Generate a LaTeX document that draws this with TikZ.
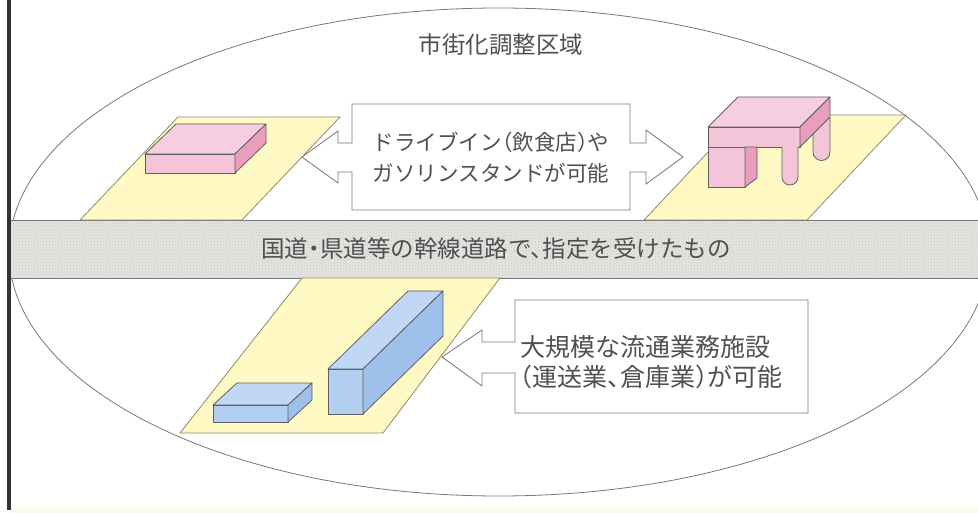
\documentclass[tikz,border=0pt]{standalone}
\usepackage{fontspec}
\newfontfamily\jp[RawFeature=+halt]{Noto Sans CJK JP}
\usetikzlibrary{patterns}

\definecolor{lotfill}{RGB}{255,250,196}
\definecolor{lotline}{RGB}{140,140,110}
\definecolor{pinktop}{RGB}{247,206,224}
\definecolor{pinkfront}{RGB}{244,196,216}
\definecolor{pinkside}{RGB}{234,158,190}
\definecolor{bluetop}{RGB}{192,216,246}
\definecolor{bluefront}{RGB}{178,206,240}
\definecolor{blueside}{RGB}{158,192,234}
\definecolor{edgeline}{RGB}{95,95,95}
\definecolor{thinline}{RGB}{120,120,120}
\definecolor{inktext}{RGB}{80,80,80}
\definecolor{roadfill}{RGB}{228,229,225}
\definecolor{roaddots}{RGB}{196,198,194}
\definecolor{papertint}{RGB}{253,251,240}

\tikzset{
  lot/.style={fill=lotfill, draw=lotline, line width=0.8pt, line join=miter},
  facepink/.style={fill=#1, draw=edgeline, line width=0.8pt, line join=round},
  faceblue/.style={fill=#1, draw=edgeline, line width=0.8pt, line join=round},
  callout/.style={fill=white, draw=thinline, line width=0.8pt, line join=miter},
  label/.style={text=inktext, inner sep=0pt, font=\jp},
}

\begin{document}
\begin{tikzpicture}[x=1pt, y=-1pt]
  \useasboundingbox (0,0) rectangle (978,513);
  \fill[white] (0,0) rectangle (978,513);
  \fill[papertint] (10,507) rectangle (978,513);

  % urbanization control area
  \draw[thinline, line width=0.8pt] (499,252) ellipse [x radius=490, y radius=244];

  % trunk road band
  \fill[roadfill] (10,220) rectangle (978,278);
  \fill[pattern=crosshatch dots, pattern color=roaddots] (10,220) rectangle (978,278);
  \draw[thinline, line width=0.9pt] (10,220) -- (978,220) (10,278) -- (978,278);

  % page edge on the left
  \draw[black!80, line width=3.2pt] (9,0) -- (9,510);

  % lots along the road
  \draw[lot] (80,220) -- (242,220) -- (340,117) -- (178,117) -- cycle;
  \draw[lot] (644,220) -- (807,220) -- (906,115) -- (743,115) -- cycle;
  \draw[lot] (180,433) -- (383,433) -- (500,278) -- (302,278) -- cycle;

  % low pink building
  \draw[facepink=pinktop] (145,154) -- (235,154) -- (266,124) -- (176,124) -- cycle;
  \draw[facepink=pinkfront] (145,154) rectangle (235,173);
  \draw[facepink=pinkside] (235,154) -- (266,124) -- (266,143) -- (235,173) -- cycle;

  % pink table-shaped building
  \draw[facepink=pinkfront] (813,118) -- (813,152) arc[start angle=180, end angle=0, radius=8.5] -- (830,118) -- cycle;
  \draw[facepink=pinktop] (708,127) -- (800,127) -- (830,97) -- (738,97) -- cycle;
  \draw[facepink=pinkfront] (708,127) rectangle (800,147);
  \draw[facepink=pinkside] (800,127) -- (830,97) -- (830,117) -- (800,147) -- cycle;
  \draw[facepink=pinkfront] (708,147) rectangle (745,187);
  \draw[facepink=pinkside] (745,147) -- (757,147) -- (757,178) -- (745,187) -- cycle;
  \draw[facepink=pinkfront] (782,147) -- (782,177) arc[start angle=180, end angle=0, radius=8] -- (798,147);

  % blue warehouse buildings
  \draw[faceblue=bluetop] (213,405) -- (288,405) -- (312,383) -- (237,383) -- cycle;
  \draw[faceblue=bluefront] (213,405) rectangle (288,422);
  \draw[faceblue=blueside] (288,405) -- (312,383) -- (312,400) -- (288,422) -- cycle;

  \draw[faceblue=bluetop] (328,369) -- (363,369) -- (443,291) -- (408,291) -- cycle;
  \draw[faceblue=bluefront] (328,369) rectangle (363,414);
  \draw[faceblue=blueside] (363,369) -- (443,291) -- (443,336) -- (363,414) -- cycle;

  % double-arrow callout
  \draw[callout] (352,104) -- (630,104) -- (630,143) -- (646,143) -- (646,130)
    -- (683,157) -- (646,184) -- (646,172) -- (630,172) -- (630,210)
    -- (352,210) -- (352,172) -- (338,172) -- (338,183) -- (302,157)
    -- (338,131) -- (338,143) -- (352,143) -- cycle;

  % left-arrow callout
  \draw[callout] (515,300) -- (808,300) -- (808,413) -- (515,413) -- (515,373)
    -- (482,373) -- (482,386) -- (442,357) -- (482,330) -- (482,342)
    -- (515,342) -- cycle;

  % texts
  \node[label, font=\jp\fontsize{23.5}{28}\selectfont] (title) at (501,45) {市街化調整区域};
  \node[label, align=center, font=\jp\fontsize{21.5}{31}\selectfont] (roadside) at (491,158)
    {ドライブイン（飲食店）や\\ガソリンスタンドが可能};
  \node[label, font=\jp\fontsize{23.5}{28}\selectfont] (road) at (496,249)
    {国道・県道等の幹線道路で、指定を受けたもの};
  \node[label, align=left, anchor=west, font=\jp\fontsize{25}{30}\selectfont] (logistics) at (520,362)
    {大規模な流通業務施設\\（運送業、倉庫業）が可能};
\end{tikzpicture}
\end{document}
